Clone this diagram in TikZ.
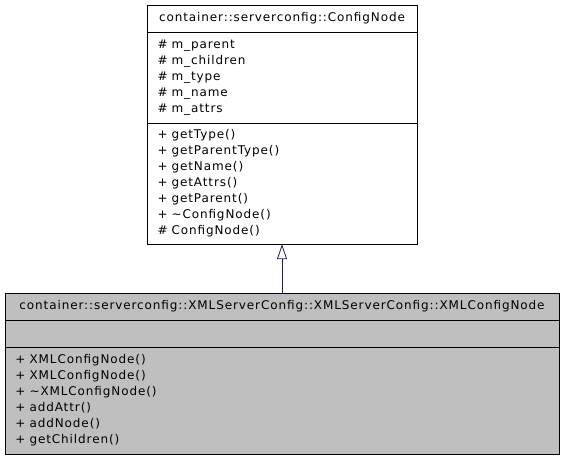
\documentclass[tikz,border=0pt]{standalone}
\usepackage{fontspec}
\newfontfamily\umlfont{DejaVu Sans}[LetterSpace=7.5]
\usepackage{tikz}
\usetikzlibrary{arrows.meta,positioning}

\definecolor{edgeblue}{HTML}{191970}
\definecolor{classgray}{HTML}{BFBFBF}

\begin{document}
\begin{tikzpicture}[
  x=1pt, y=-1pt,
  part/.style={draw, fill=white, inner sep=0pt, font=\umlfont\fontsize{12}{16}\selectfont},
  title/.style={part, align=center},
  members/.style={part, align=left, inner xsep=10.5pt},
  focus/.style={fill=classgray},
  inherit/.style={-{Triangle[open, length=15pt, width=10pt]}, draw=edgeblue, line width=0.8pt}
]
\useasboundingbox[fill=white] (0,0) rectangle (563,459);

% base class
\node[title, minimum width=270pt, minimum height=27pt] (cfgtitle) at (282,18.5) {container::serverconfig::ConfigNode};
\node[members, text width=249pt, minimum height=91pt] (cfgattrs) at (282,77.5)
  {\# m\_parent\\\# m\_children\\\# m\_type\\\# m\_name\\\# m\_attrs};
\node[members, text width=249pt, minimum height=121pt] (cfgops) at (282,183.5)
  {+ getType()\\+ getParentType()\\+ getName()\\+ getAttrs()\\+ getParent()\\+ \textasciitilde ConfigNode()\\\# ConfigNode()};

% derived class
\node[title, focus, minimum width=554pt, minimum height=27pt] (xmltitle) at (282,306.5)
  {container::serverconfig::XMLServerConfig::XMLServerConfig::XMLConfigNode};
\node[members, focus, text width=533pt, minimum height=27pt] (xmlattrs) at (282,333.5) {};
\node[members, focus, text width=533pt, minimum height=107pt] (xmlops) at (282,400.5)
  {+ XMLConfigNode()\\+ XMLConfigNode()\\+ \textasciitilde XMLConfigNode()\\+ addAttr()\\+ addNode()\\+ getChildren()};

\draw[inherit] (xmltitle.north) -- (cfgops.south);
\end{tikzpicture}
\end{document}
